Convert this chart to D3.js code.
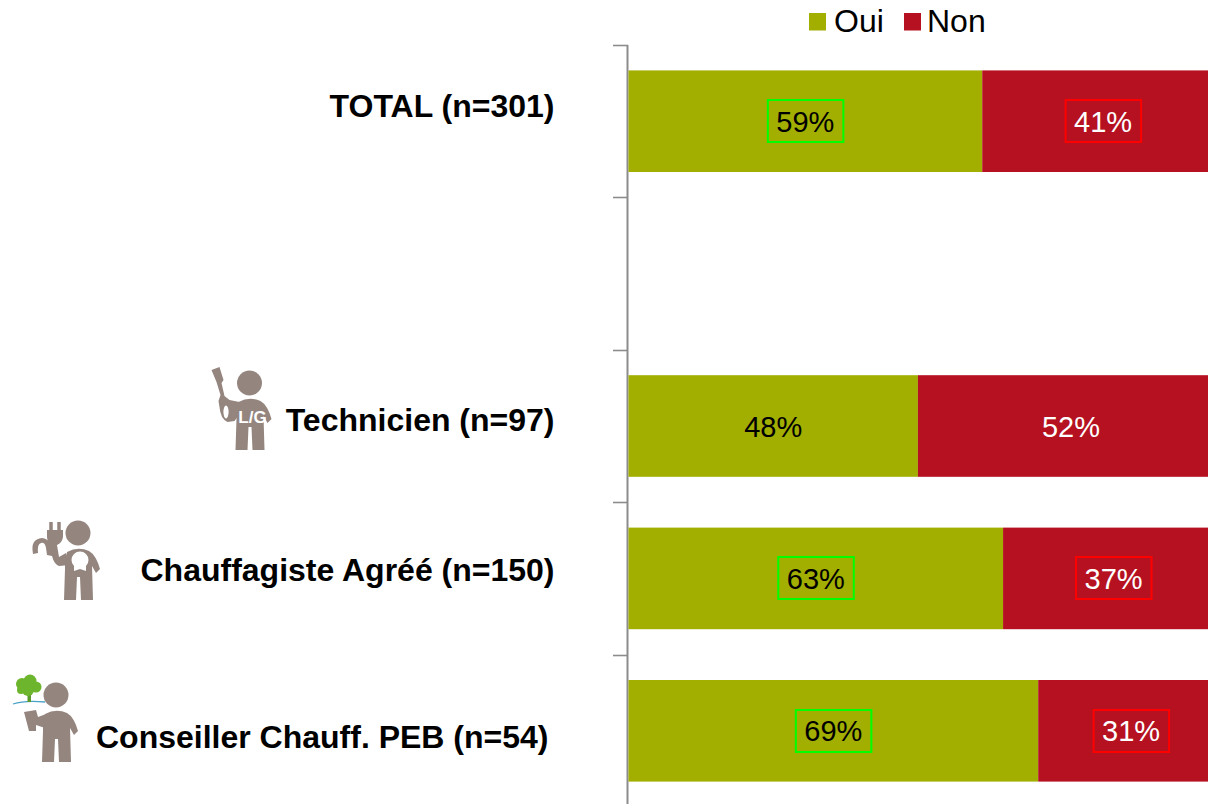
<!DOCTYPE html>
<html><head><meta charset="utf-8">
<script src="https://cdn.jsdelivr.net/npm/d3@7"></script>
<style>html,body{margin:0;padding:0;background:#fff;overflow:hidden}svg{display:block}text{font-family:"Liberation Sans",Arial,sans-serif}</style>
</head><body><svg id="c" width="1208" height="804"></svg>
<script>
const categories = ["TOTAL (n=301)", "", "Technicien (n=97)", "Chauffagiste Agréé (n=150)", "Conseiller Chauff. PEB (n=54)"];
const oui = [59.4, null, 48.6, 62.9, 68.8];
const non = [40.6, null, 51.4, 37.1, 31.2];
const ouiLabels = ["59%", "", "48%", "63%", "69%"];
const nonLabels = ["41%", "", "52%", "37%", "31%"];
const boxed = [true, false, false, true, true];
const seriesNames = ["Oui", "Non"];
const seriesColors = ["#a2ae00", "#b51121"];
const boxColors = ["#00ff00", "#ff0000"];
const labelColors = ["#000", "#fff"];

// layout of the category labels, relative to the band centre
const labelDy = [-15, 0, -6, -8, 7];
const labelDx = [0, 0, 0, 0, -6];

const svg = d3.select("#c");
const x = d3.scaleLinear().domain([0, 100]).range([628.5, 1224]);
const y = d3.scaleBand().domain(d3.range(categories.length)).range([45, 807]).paddingInner(1/3).paddingOuter(1/6);

const step = y.step();
const tickVals = d3.range(categories.length + 1).map(i => 45 + i * step);
svg.append("line").attr("x1", 627.5).attr("x2", 627.5).attr("y1", 45).attr("y2", 804).attr("stroke", "#8c8c8c").attr("stroke-width", 2);
svg.selectAll("line.t").data(tickVals).join("line").attr("class","t")
  .attr("x1", 613).attr("x2", 628).attr("y1", d => Math.round(d)+.5).attr("y2", d => Math.round(d)+.5)
  .attr("stroke", "#8c8c8c").attr("stroke-width", 1.6);

[oui, non].forEach((vals, s) => {
  const start = i => s === 0 ? 0 : oui[i];
  const idx = d3.range(categories.length).filter(i => vals[i] != null);
  svg.selectAll("rect.s" + s).data(idx).join("rect").attr("class", "s" + s)
    .attr("x", i => x(start(i))).attr("width", i => x(start(i) + vals[i]) - x(start(i)))
    .attr("y", i => y(i)).attr("height", y.bandwidth()).attr("fill", seriesColors[s]);
  const labels = s === 0 ? ouiLabels : nonLabels;
  const cx = i => x(start(i) + vals[i] / 2);
  const cy = i => y(i) + y.bandwidth() / 2;
  svg.selectAll("rect.b" + s).data(idx.filter(i => boxed[i])).join("rect").attr("class", "b" + s)
    .attr("x", i => cx(i) - 37.5).attr("y", i => Math.round(cy(i)) - 21).attr("width", 75.5).attr("height", 42)
    .attr("fill", "none").attr("stroke", boxColors[s]).attr("stroke-width", 2);
  svg.selectAll("text.l" + s).data(idx).join("text").attr("class", "l" + s)
    .attr("x", cx).attr("y", i => cy(i) + 10.5).attr("text-anchor", "middle")
    .attr("font-size", 29).attr("fill", labelColors[s]).text(i => labels[i]);
});

svg.selectAll("text.cat").data(d3.range(categories.length).filter(i => categories[i])).join("text").attr("class", "cat")
  .attr("x", i => 554.5 + labelDx[i]).attr("y", i => y(i) + y.bandwidth() / 2 + labelDy[i] + 10.5)
  .attr("text-anchor", "end").attr("font-size", 32).attr("font-weight", "bold").attr("fill", "#000")
  .text(i => categories[i]);

// legend
const legendX = [809, 904], legendTextX = [834, 927];
seriesNames.forEach((n, i) => {
  svg.append("rect").attr("x", legendX[i]).attr("y", 13).attr("width", 17).attr("height", 17.5).attr("fill", seriesColors[i]);
  svg.append("text").attr("x", legendTextX[i]).attr("y", 32).attr("font-size", 32).attr("fill", "#000").text(n);
});

// pictograms
const grey = "#94857f";
const bodyPath = "M-11,19 Q0,13 11,18 Q18,22 22,36 L18,40 L14,33 L15,67 L3,67 L2,44 L-1,44 L-2,67 L-14,67 L-13,36 L-13,30 Z";
function person(hx, hy) {
  const g = svg.append("g").attr("transform", `translate(${hx},${hy})`);
  g.append("circle").attr("r", 12.5).attr("fill", grey);
  g.append("path").attr("d", bodyPath).attr("fill", grey);
  return g;
}
// technicien: wrench + L/G
const t = person(249.5, 383);
t.append("path").attr("d", "M-38,-13 L-30,-16 L-26,-3 L-28,0 L-25,13 L-20,17 L-10,19 L-12,34 L-15,38 L-22,39 Q-29,36 -30,24 L-31,18 L-29,12 L-33,-1 Z").attr("fill", grey);
t.append("ellipse").attr("cx", -23.5).attr("cy", 29).attr("rx", 2.6).attr("ry", 6.5).attr("fill", "#fff");
t.append("text").attr("x", 3).attr("y", 40).attr("text-anchor", "middle").attr("font-size", 17).attr("font-weight", "bold").attr("fill", "#fff").text("L/G");
// chauffagiste: plug + rosette
const c = person(78, 533);
c.append("path").attr("d", "M-31,-3 L-15,-3 L-15,4 Q-16,10 -21,12 L-19,24 L-12,20 L-8,32 L-19,33 Q-24,31 -26,23 L-31,22 L-32,15 Q-33,9 -37,10 Q-41,11 -40,20 L-45,21 Q-48,6 -36,5 Q-31,5 -26,12 Q-31,9 -31,4 Z").attr("fill", grey);
c.append("path").attr("d", "M-27,-3 V-11 M-19,-3 V-11").attr("stroke", grey).attr("stroke-width", 3.5);
c.append("circle").attr("cx", 2).attr("cy", 27).attr("r", 8.5).attr("fill", "#fff");
c.append("path").attr("d", "M-4,31 L-4,38 L2,36 L8,38 L8,31 Z").attr("fill", "#fff");
// conseiller: tree + sheet
const p = person(56, 695);
p.append("path").attr("d", "M-32,17 L-20,15 L-18,22 L-10,19 L-11,33 L-20,30 L-20,36 L-27,36 Z").attr("fill", grey);
const tree = svg.append("g").attr("transform", "translate(29,687)");
tree.append("path").attr("d", "M-16,17 Q-4,13 16,15").attr("stroke", "#4aa3c7").attr("stroke-width", 1.3).attr("fill", "none");
tree.append("rect").attr("x", -1.5).attr("y", 5).attr("width", 3.5).attr("height", 10).attr("fill", "#5a9a2a");
[[-7,-3,6],[1,-6,6.5],[7,0,5.5],[-1,3,6],[-8,3,4]].forEach(d => tree.append("circle").attr("cx", d[0]).attr("cy", d[1]).attr("r", d[2]).attr("fill", "#6cb52d"));
</script></body></html>
